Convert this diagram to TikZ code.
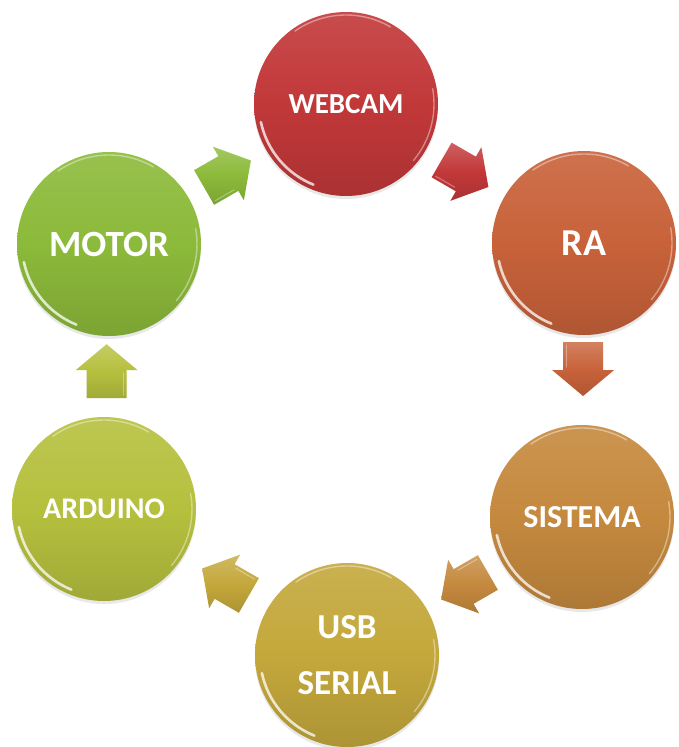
\documentclass[tikz,border=0pt]{standalone}
\usepackage{fontspec}
\setmainfont{Carlito}
\usetikzlibrary{calc,shadows}
\definecolor{cWeb}{RGB}{194,56,57}
\definecolor{cRa}{RGB}{200,98,58}
\definecolor{cSis}{RGB}{197,137,62}
\definecolor{cUsb}{RGB}{196,168,60}
\definecolor{cArd}{RGB}{182,192,62}
\definecolor{cMot}{RGB}{140,186,58}
\begin{document}
\begin{tikzpicture}[x=1pt,y=-1pt,
  ball/.style={circle, minimum size=184pt, inner sep=0pt, outer sep=0pt,
    text=white, align=center,
    top color=#1!90!white, bottom color=#1!88!black, middle color=#1,
    drop shadow={opacity=0.18, shadow xshift=0pt, shadow yshift=-3pt}},
  shine/.style={white, line cap=round, line width=2.6pt, opacity=0.75},
  rim/.style={white, line cap=round, line width=1.4pt, opacity=0.4},
  blockarrow/.pic={
    \path[top color=#1!80!white, bottom color=#1!88!black, middle color=#1]
      (-27,-20) -- (1,-20) -- (1,-31) -- (27,0) -- (1,31) -- (1,20) -- (-27,20) -- cycle;
    \draw[white, opacity=0.35, line width=1pt, line cap=round] (-24,17) -- (-2,17);
  }]
\fill[white] (0,0) rectangle (679,747);
\useasboundingbox (0,0) rectangle (679,747);

\node[ball=cWeb, font=\bfseries\fontsize{29}{30}\selectfont] (webcam) at (346,104) {WEBCAM};
\node[ball=cRa, font=\bfseries\fontsize{38}{40}\selectfont] (ra) at (584,243) {RA};
\node[ball=cSis, font=\bfseries\fontsize{32}{34}\selectfont] (sistema) at (582,517) {SISTEMA};
\node[ball=cUsb, font=\bfseries\fontsize{35}{56}\selectfont] (usb) at (347,655) {USB\\SERIAL};
\node[ball=cArd, font=\bfseries\fontsize{30}{32}\selectfont] (arduino) at (104,509) {ARDUINO};
\node[ball=cMot, font=\bfseries\fontsize{37}{40}\selectfont] (motor) at (109,244) {MOTOR};

\foreach \n in {webcam,ra,sistema,usb,arduino,motor}{
  \draw[shine] ($(\n.center)+(192:87pt)$) arc[start angle=192, end angle=248, radius=87pt];
  \draw[rim] ($(\n.center)+(60:89pt)$) arc[start angle=60, end angle=125, radius=89pt];
  \draw[rim] ($(\n.center)+(-40:88pt)$) arc[start angle=-40, end angle=10, radius=88pt];
}

\pic[rotate=30] at ($(motor)!0.5!(webcam)$) {blockarrow=cMot};
\pic[rotate=-30] at ($(webcam)!0.5!(ra)$) {blockarrow=cWeb};
\pic[rotate=-90] at ($(ra)!0.46!(sistema)$) {blockarrow=cRa};
\pic[rotate=-150] at ($(sistema)!0.5!(usb)$) {blockarrow=cSis};
\pic[rotate=150] at ($(usb)!0.5!(arduino)$) {blockarrow=cUsb};
\pic[rotate=90] at ($(arduino)!0.52!(motor)$) {blockarrow=cArd};
\end{tikzpicture}
\end{document}
